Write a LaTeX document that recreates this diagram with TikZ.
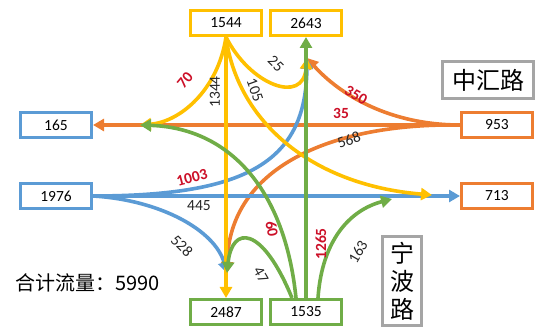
\documentclass[tikz,border=0pt]{standalone}
\usepackage{fontspec}
\setmainfont{Carlito}
\newfontfamily\cjk{Noto Sans CJK SC}
\usetikzlibrary{arrows.meta, positioning}
\definecolor{gold}{RGB}{255,192,0}
\definecolor{flame}{RGB}{237,125,49}
\definecolor{sky}{RGB}{91,155,213}
\definecolor{leaf}{RGB}{112,173,71}
\definecolor{ash}{RGB}{165,165,165}
\definecolor{hot}{RGB}{204,16,40}
\newcommand{\hi}[1]{{\color{hot}\bfseries #1}}

\begin{document}
\begin{tikzpicture}[x=1pt, y=-1pt, node distance=6pt,
      every node/.style={font=\fontsize{15.5}{18}\selectfont},
      box/.style={draw, line width=3pt, fill=white, minimum width=71pt,
                  minimum height=25pt, inner sep=0pt},
      road/.style={draw=ash, line width=3pt, align=center, inner sep=0pt,
                   font=\cjk\fontsize{24}{28}\selectfont},
      flow/.style={line width=3.6pt, -{Triangle[length=11pt, width=12pt]}},
      num/.style={inner sep=1pt, text=black!85}]
    \useasboundingbox (0,0) rectangle (536,328);
    % approaches
    \node[box, draw=gold] (nin) at (226,23) {1544};
    \node[box, draw=gold, right=of nin] (nout) {2643};
    \node[box, draw=sky] (wout) at (56,125) {165};
    \node[box, draw=flame] (ein) at (497,125) {953};
    \node[box, draw=sky] (win) at (56,196) {1976};
    \node[box, draw=flame] (eout) at (497,196) {713};
    \node[box, draw=leaf] (sout) at (226,312) {2487};
    \node[box, draw=leaf, right=of sout] (sin) {1535};
    \node[road, minimum width=91pt, minimum height=37pt] (ew) at (488,80) {中汇路};
    \node[road, minimum width=39pt, minimum height=89pt] (ns) at (402,281) {宁\\波\\路};
    \node[font=\cjk\fontsize{20}{24}\selectfont, anchor=west] (sum) at (12,283) {合计流量：5990};
    \coordinate (wj) at (140,125);
    \coordinate (nj) at (307,58);
    \coordinate (ej) at (432,195);
    \coordinate (ej2) at (392,199);
    \coordinate (sj) at (227,273);
    % from east
    \draw[flow, flame] (ein.west) -- (wout.east);
    \draw[flow, flame] (ein.west) .. controls (390,125) and (340,95) .. (nj);
    \draw[flow, flame] (ein.west) .. controls (330,123) and (229,168) .. (sj);
    % from west
    \draw[flow, sky] (win.east) -- (eout.west);
    \draw[flow, sky] (win.east) .. controls (250,196) and (306,160) .. (nj);
    \draw[flow, sky] (win.east) .. controls (160,200) and (215,230) .. (sj);
    % from north
    \draw[flow, gold] (nin.south) -- (sout.north);
    \draw[flow, gold] (nin.south) .. controls (218,90) and (180,122) .. (wj);
    \draw[flow, gold] (nin.south) .. controls (237,120) and (310,185) .. (ej);
    \draw[flow, gold] (nin.south) .. controls (250,85) and (303,105) .. (nj);
    % from south
    \draw[flow, leaf] (sin.north) -- (nout.south);
    \draw[flow, leaf] ([xshift=-10pt]sin.north) .. controls (285,190) and (230,128) .. (wj);
    \draw[flow, leaf] ([xshift=-14pt]sin.north) .. controls (262,225) and (232,225) .. (sj);
    \draw[flow, leaf] ([xshift=12pt]sin.north) .. controls (322,240) and (350,210) .. (ej2);
    % volumes
    \node[num, rotate=50] (l70) at (185,80) {\hi{70}};
    \node[num, rotate=90] (l1344) at (215,92) {1344};
    \node[num, rotate=-70] (l105) at (255,90) {105};
    \node[num, rotate=-45] (l25) at (276,64) {25};
    \node[num, rotate=-30] (l350) at (356,95) {\hi{350}};
    \node[num] (l35) at (341,113) {\hi{35}};
    \node[num, rotate=20] (l568) at (349,140) {568};
    \node[num, rotate=15] (l1003) at (192,178) {\hi{1003}};
    \node[num] (l445) at (199,206) {445};
    \node[num, rotate=-45] (l528) at (182,246) {528};
    \node[num, rotate=-80] (l60) at (272,229) {\hi{60}};
    \node[num, rotate=90] (l1265) at (321,244) {\hi{1265}};
    \node[num, rotate=-60] (l47) at (261,275) {47};
    \node[num, rotate=60] (l163) at (358,252) {163};
  \end{tikzpicture}
\end{document}
